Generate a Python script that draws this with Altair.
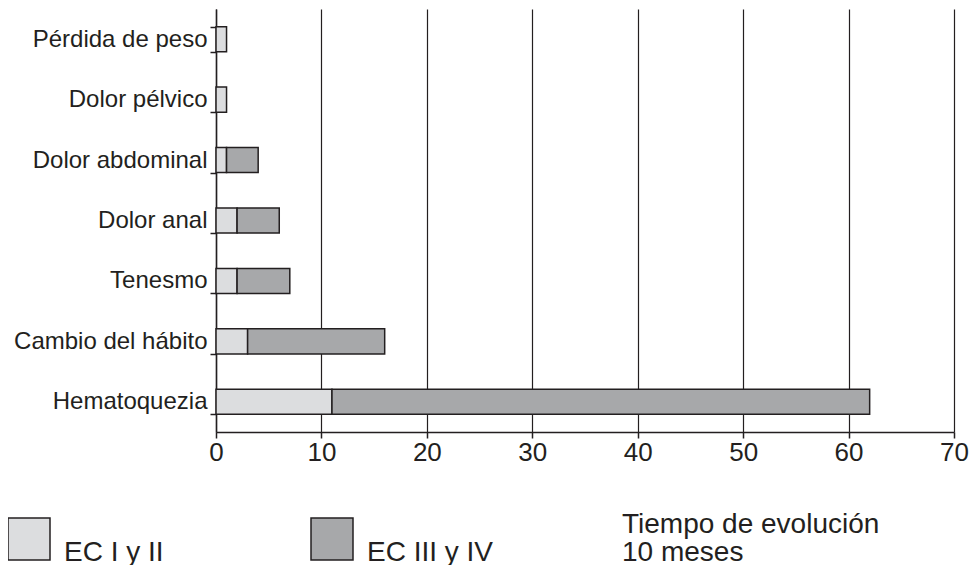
import altair as alt
import pandas as pd

categories = ["Pérdida de peso", "Dolor pélvico", "Dolor abdominal", "Dolor anal",
              "Tenesmo", "Cambio del hábito", "Hematoquezia"]
ec_i_ii = [1, 1, 1, 2, 2, 3, 11]
ec_iii_iv = [0, 0, 3, 4, 5, 13, 51]
series_names = ["EC I y II", "EC III y IV"]
series_colors = ["#dcdddf", "#a7a8aa"]
x_ticks = [0, 10, 20, 30, 40, 50, 60, 70]
note_text = "Tiempo de evolución\n10 meses"

rows = []
for c, a, b in zip(categories, ec_i_ii, ec_iii_iv):
    rows.append({"sintoma": c, "grupo": series_names[0], "orden": 0, "valor": a})
    rows.append({"sintoma": c, "grupo": series_names[1], "orden": 1, "valor": b})
df = pd.DataFrame(rows)

FONT = "Liberation Sans"
INK = "#231f20"

bars = alt.Chart(df).transform_filter(alt.datum.valor > 0).mark_bar(
    stroke=INK, strokeWidth=1.5, opacity=1
).encode(
    x=alt.X("sum(valor):Q", stack="zero",
            scale=alt.Scale(domain=[0, 70], nice=False),
            axis=alt.Axis(values=x_ticks, title=None, grid=True, gridColor=INK,
                          gridWidth=1.2, gridOpacity=1, tickSize=6, tickColor=INK,
                          tickWidth=1.5, domainColor=INK, domainWidth=1.5,
                          labelFontSize=26, labelFont=FONT, labelColor=INK,
                          labelPadding=1, labelFlush=False)),
    y=alt.Y("sintoma:N", sort=categories,
            scale=alt.Scale(paddingInner=0.585, paddingOuter=0.2925),
            axis=alt.Axis(title=None, tickBand="extent", tickSize=6, tickColor=INK,
                          tickWidth=1.5, domainColor=INK, domainWidth=1.5,
                          labelFontSize=24, labelFont=FONT, labelColor=INK,
                          labelPadding=3, labelLimit=300, grid=False)),
    color=alt.Color("grupo:N", scale=alt.Scale(domain=series_names, range=series_colors),
                    legend=alt.Legend(title=None, orient="none", legendX=-209, legendY=508,
                                      direction="horizontal", symbolType="square",
                                      symbolSize=1764, symbolStrokeColor=INK,
                                      symbolStrokeWidth=1.5, symbolOpacity=1,
                                      labelFontSize=28, labelFont=FONT, labelColor=INK,
                                      labelOffset=13, gridAlign="all", columnPadding=117,
                                      labelBaseline="top")),
    order=alt.Order("orden:Q"),
)

note = alt.Chart(pd.DataFrame({"t": [note_text]})).mark_text(
    align="left", baseline="alphabetic", fontSize=28, font=FONT, color=INK,
    lineBreak="\n", lineHeight=28
).encode(x=alt.value(406), y=alt.value(524), text="t:N")

chart = alt.layer(bars, note).properties(
    width=738, height=423,
    autosize=alt.AutoSizeParams(type="none"),
    padding={"left": 208, "top": 1, "right": 15, "bottom": 133},
    background="white",
).configure(font=FONT,
            view=alt.ViewConfig(strokeWidth=0, stroke="transparent", strokeOpacity=0))

chart.save("out.html", embed_options={"renderer": "svg", "actions": False})
